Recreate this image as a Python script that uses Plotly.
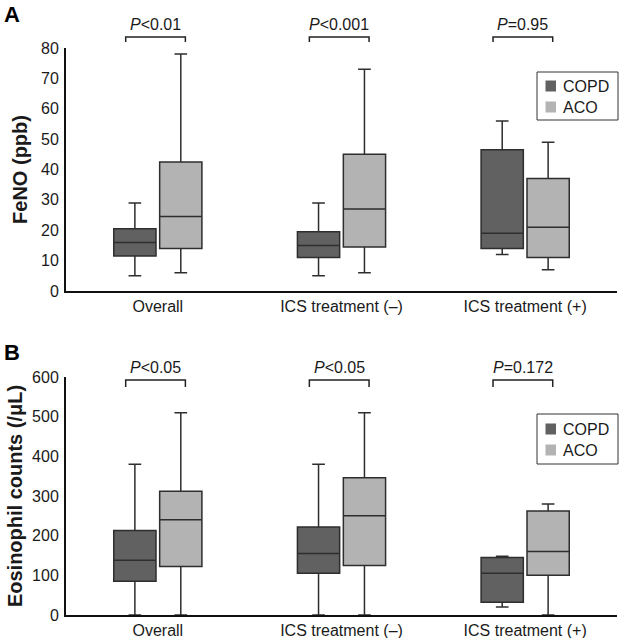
import plotly.graph_objects as go

# ---------------- data ----------------
categories = ["Overall", "ICS treatment (–)", "ICS treatment (+)"]
groups = ["COPD", "ACO"]

# Panel A: FeNO (ppb)
feno_copd_min = [5, 5, 12]
feno_copd_q1 = [11.5, 11, 14]
feno_copd_med = [16, 15, 19]
feno_copd_q3 = [20.5, 19.5, 46.5]
feno_copd_max = [29, 29, 56]

feno_aco_min = [6, 6, 7]
feno_aco_q1 = [14, 14.5, 11]
feno_aco_med = [24.5, 27, 21]
feno_aco_q3 = [42.5, 45, 37]
feno_aco_max = [78, 73, 49]

feno_pvalues = ["&lt;0.01", "&lt;0.001", "=0.95"]

# Panel B: Eosinophil counts (/μL)
eos_copd_min = [0, 0, 20]
eos_copd_q1 = [85, 105, 32]
eos_copd_med = [138, 155, 105]
eos_copd_q3 = [213, 222, 145]
eos_copd_max = [380, 380, 148]

eos_aco_min = [0, 0, 0]
eos_aco_q1 = [122, 125, 100]
eos_aco_med = [240, 250, 160]
eos_aco_q3 = [312, 346, 262]
eos_aco_max = [510, 510, 280]

eos_pvalues = ["&lt;0.05", "&lt;0.05", "=0.172"]

feno_ticks = [0, 10, 20, 30, 40, 50, 60, 70, 80]
eos_ticks = [0, 100, 200, 300, 400, 500, 600]

# ---------------- style ----------------
FONT = "Arial, Liberation Sans, Helvetica, sans-serif"
TXT = "#1a1a1a"
COL_COPD = "#616161"
COL_ACO = "#b3b3b3"
EDGE = "#2e2e2e"
W, H = 619, 638
COLORS = [COL_COPD, COL_ACO]

fig = go.Figure()


def add_boxes(xa, ya, stats):
    for name, color, (lo, q1, md, q3, hi) in zip(groups, COLORS, stats):
        fig.add_trace(go.Box(
            x=categories, q1=q1, median=md, q3=q3, lowerfence=lo, upperfence=hi,
            name=name, fillcolor=color, line=dict(color=EDGE, width=1.5),
            whiskerwidth=0.3, boxpoints=False, showlegend=False,
            xaxis=xa, yaxis=ya, offsetgroup=name, hoverinfo="skip"))


add_boxes("x", "y", [
    (feno_copd_min, feno_copd_q1, feno_copd_med, feno_copd_q3, feno_copd_max),
    (feno_aco_min, feno_aco_q1, feno_aco_med, feno_aco_q3, feno_aco_max)])
add_boxes("x2", "y2", [
    (eos_copd_min, eos_copd_q1, eos_copd_med, eos_copd_q3, eos_copd_max),
    (eos_aco_min, eos_aco_q1, eos_aco_med, eos_aco_q3, eos_aco_max)])

# domains in paper coordinates (margins are 0)
xdom = [66 / W, 617 / W]
ydomA = [1 - 291 / H, 1 - 48 / H]
ydomB = [1 - 615 / H, 1 - 377 / H]

axis_common = dict(showline=True, linecolor="#111", linewidth=2, showgrid=False,
                   zeroline=False, ticks="", automargin=False,
                   tickfont=dict(size=16, color=TXT, family=FONT))

fig.update_layout(
    xaxis=dict(domain=xdom, anchor="y", type="category", range=[-0.5, 2.5], **axis_common),
    yaxis=dict(domain=ydomA, anchor="x", range=[0, 80], tickvals=feno_ticks,
               ticklabelstandoff=2,
               title=dict(text="<b>FeNO (ppb)</b>", font=dict(size=20, color=TXT, family=FONT), standoff=8),
               **axis_common),
    xaxis2=dict(domain=xdom, anchor="y2", type="category", range=[-0.5, 2.5], **axis_common),
    yaxis2=dict(domain=ydomB, anchor="x2", range=[0, 600], tickvals=eos_ticks,
                ticklabelstandoff=2,
                title=dict(text="<b>Eosinophil counts (/μL)</b>", font=dict(size=20, color=TXT, family=FONT), standoff=4),
                **axis_common),
    boxmode="group", boxgap=0.5, boxgroupgap=0.08,
    width=W, height=H, margin=dict(l=0, r=0, t=0, b=0, autoexpand=False),
    plot_bgcolor="white", paper_bgcolor="white",
    font=dict(family=FONT, color=TXT, size=16),
    showlegend=False,
)

# significance brackets
shapes = []
annotations = []
L, R = -0.175, 0.15
for xa, ya, pvals, ytop, ytick, ytext in [
        ("x", "y", feno_pvalues, 1.045, 1.025, 1.095),
        ("x2", "y2", eos_pvalues, 0.987, 0.958, 1.038)]:
    for i, p in enumerate(pvals):
        x0, x1 = i + L, i + R
        path = f"M {x0},{ytick} L {x0},{ytop} L {x1},{ytop} L {x1},{ytick}"
        shapes.append(dict(type="path", path=path, xref=xa, yref=f"{ya} domain",
                           line=dict(color="#222", width=1.5)))
        annotations.append(dict(text=f"<i>P</i>{p}", x=i + (L + R) / 2, y=ytext,
                                xref=xa, yref=f"{ya} domain", showarrow=False,
                                xanchor="center", yanchor="middle",
                                font=dict(size=16, color=TXT, family=FONT)))

# legends (one per panel), in pixel positions converted to paper coords
def px(x):
    return x / W


def py(y):
    return 1 - y / H


for top, bottom, rows in [(72, 120, (86, 107)), (414, 464, (429, 450))]:
    shapes.append(dict(type="rect", xref="paper", yref="paper",
                       x0=px(537), x1=px(618), y0=py(bottom), y1=py(top),
                       line=dict(color="#333", width=1), fillcolor="white"))
    for name, color, yc in zip(groups, COLORS, rows):
        shapes.append(dict(type="rect", xref="paper", yref="paper",
                           x0=px(545.5), x1=px(556), y0=py(yc + 5.5), y1=py(yc - 5.5),
                           line=dict(width=0), fillcolor=color))
        annotations.append(dict(text=name, x=px(561), y=py(yc), xref="paper", yref="paper",
                                xanchor="left", yanchor="middle", showarrow=False,
                                font=dict(size=16, color=TXT, family=FONT)))

annotations.append(dict(text="<b>A</b>", x=px(2), y=py(14), xref="paper", yref="paper",
                        xanchor="left", yanchor="middle", showarrow=False,
                        font=dict(size=22, color="#000", family=FONT)))
annotations.append(dict(text="<b>B</b>", x=px(2), y=py(352), xref="paper", yref="paper",
                        xanchor="left", yanchor="middle", showarrow=False,
                        font=dict(size=22, color="#000", family=FONT)))

fig.update_layout(shapes=shapes, annotations=annotations)
fig.write_html("out.html", config={"displayModeBar": False},
               post_script="document.body.style.margin='0';document.body.style.overflow='hidden';")
